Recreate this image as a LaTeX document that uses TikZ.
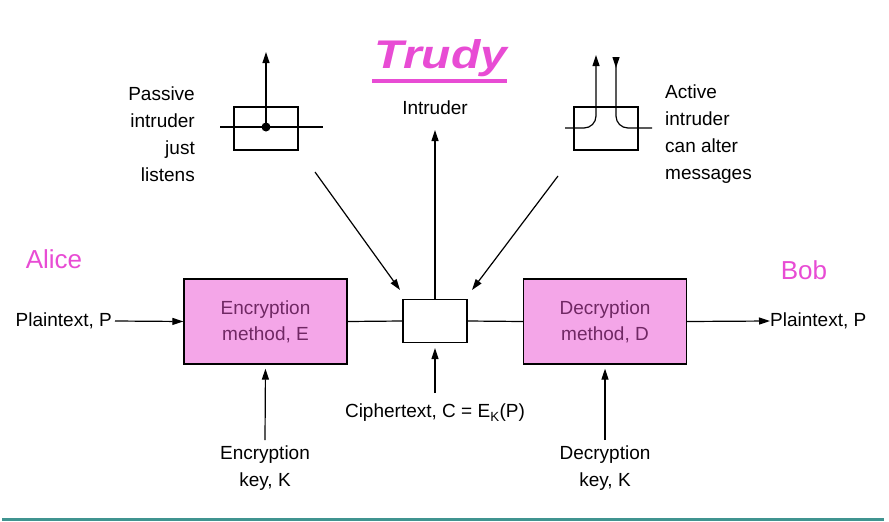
\documentclass[tikz,border=0pt]{standalone}
\usepackage{fontspec}
\setmainfont{Liberation Sans}
\usetikzlibrary{arrows.meta}
\definecolor{boxfill}{RGB}{244,166,232}
\definecolor{boxtext}{RGB}{112,40,100}
\definecolor{pinkname}{RGB}{232,76,212}
\definecolor{tealline}{RGB}{64,148,144}
\begin{document}
\begin{tikzpicture}[x=1pt,y=-1pt,
  lbl/.style={inner sep=0pt, font=\fontsize{19}{27}\selectfont},
  arr/.style={line width=1.2pt, -{Triangle[length=11pt,width=7pt]}},
  ln/.style={line width=1.2pt},
  method/.style={draw, line width=1.3pt, fill=boxfill, minimum width=163pt, minimum height=85pt,
    text=boxtext, align=center, inner sep=0pt, font=\fontsize{19}{26}\selectfont},
  plainbox/.style={draw, line width=1.1pt, fill=white, minimum width=64pt, minimum height=43pt, inner sep=0pt},
  who/.style={inner sep=0pt, text=pinkname, font=\fontsize{26}{30}\selectfont}
]
\useasboundingbox (0,0) rectangle (889,522);

% Trudy title
\node[inner sep=0pt, text=pinkname, font=\fontsize{40}{44}\selectfont\bfseries\itshape, xscale=1.2] (trudy) at (441,58) {Trudy};
\coordinate (ulA) at (372,81);
\coordinate (ulB) at (507,81);
\draw[pinkname, line width=3.5pt] (ulA) -- (ulB);

% names
\node[who] (alice) at (54,259) {Alice};
\node[who] (bob) at (804,270) {Bob};

% main boxes
\node[method] (enc) at (265.5,321.5) {Encryption\\method, E};
\node[method] (dec) at (605,321.5) {Decryption\\method, D};
\node[plainbox] (cbox) at (435,321) {};

\draw[ln] (enc.east) -- (cbox.west);
\draw[ln] (cbox.east) -- (dec.west);

% plaintext in/out
\node[lbl, anchor=east] (pin) at (112,321) {Plaintext, P};
\draw[arr] ([xshift=3pt]pin.east) -- (enc.west);
\node[lbl, anchor=west] (pout) at (770,321) {Plaintext, P};
\draw[arr] (dec.east) -- (pout.west);

% keys
\node[lbl, align=center] (ekey) at (265,468) {Encryption\\key, K};
\node[lbl, align=center] (dkey) at (605,468) {Decryption\\key, K};
\coordinate (ekeytop) at (265,440);
\coordinate (dkeytop) at (605,440);
\draw[arr, shorten >=4pt] (ekeytop) -- (enc.south);
\draw[arr, shorten >=4pt] (dkeytop) -- (dec.south);

% ciphertext
\node[lbl] (ctext) at (435,413) {Ciphertext, C = E\textsubscript{K}(P)};
\coordinate (ctop) at (435,393);
\draw[arr, shorten >=5pt] (ctop) -- (cbox.south);

% intruder
\node[lbl] (intr) at (435,108) {Intruder};
\coordinate (intrtip) at (435,130);
\draw[arr] (cbox.north) -- (intrtip);

% diagonal arrows
\coordinate (pa) at (315,172);
\coordinate (pb) at (400,290);
\coordinate (aa) at (558,176);
\coordinate (ab) at (472,290);
\draw[arr] (pa) -- (pb);
\draw[arr] (aa) -- (ab);

% passive intruder
\node[plainbox] (pbox) at (266,128.5) {};
\coordinate (pl) at (220,127);
\coordinate (pr) at (323,127);
\draw[ln] (pl) -- (pr);
\node[circle, fill, inner sep=0pt, minimum size=9pt] (dot) at (266,127) {};
\coordinate (ptip) at (266,52);
\draw[arr] (dot.center) -- (ptip);
\node[lbl, align=right, anchor=east] (ptext) at (195,134) {Passive\\intruder\\just\\listens};

% active intruder
\node[plainbox] (abox) at (606,128.5) {};
\coordinate (al) at (565,128);
\coordinate (ac) at (596,128);
\coordinate (atip) at (596,55);
\draw[arr, rounded corners=12pt] (al) -- (ac) -- (atip);
\coordinate (bt) at (616,57);
\coordinate (bc) at (616,128);
\coordinate (br) at (652,128);
\draw[ln, rounded corners=12pt, {Triangle[length=11pt,width=7pt,reversed]}-] (bt) -- (bc) -- (br);
\node[lbl, align=left, anchor=west] (atext) at (665,134) {Active\\intruder\\can alter\\messages};

% bottom rule
\coordinate (rl) at (2,519);
\coordinate (rr) at (884,519);
\draw[tealline, line width=3pt] (rl) -- (rr);
\end{tikzpicture}
\end{document}
